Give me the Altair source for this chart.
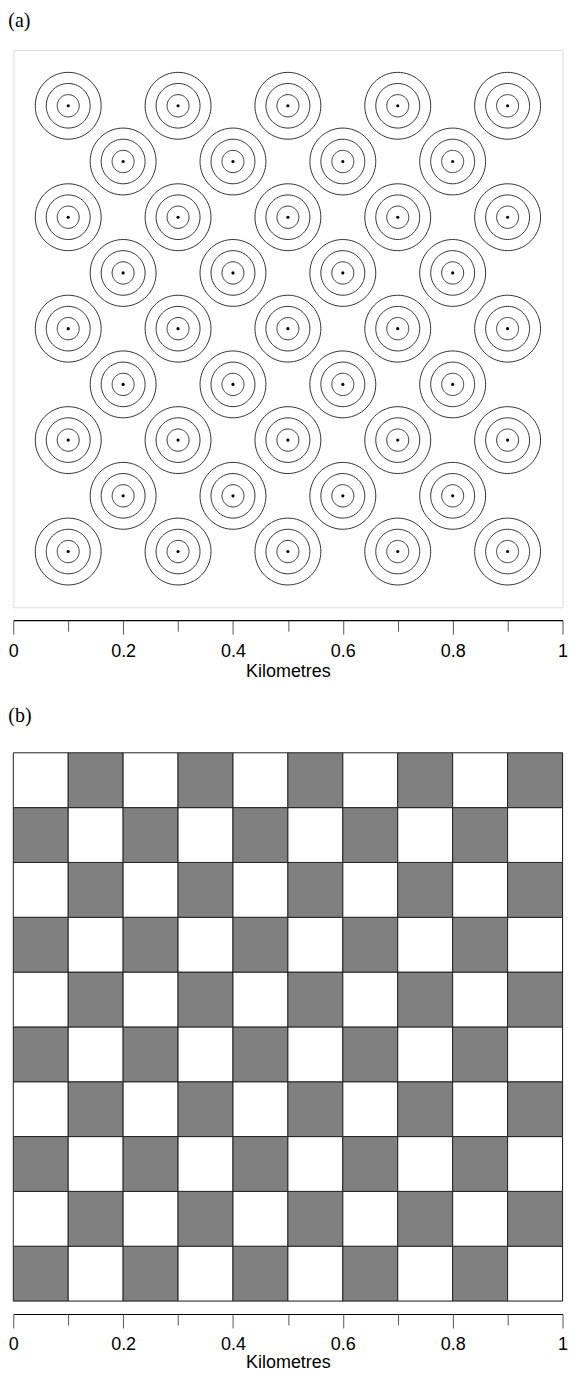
import altair as alt
import numpy as np
import pandas as pd

# ---------------- data ----------------
# panel (a): hexagonal-ish layout of plot centres (km)
long_row_x = [0.1, 0.3, 0.5, 0.7, 0.9]
long_row_y = [0.9, 0.7, 0.5, 0.3, 0.1]
short_row_x = [0.2, 0.4, 0.6, 0.8]
short_row_y = [0.8, 0.6, 0.4, 0.2]
ring_radii = [0.02, 0.04, 0.06]  # km

# panel (b): 10 x 10 checkerboard cell edges (km)
cell_edges = [0.0, 0.1, 0.2, 0.3, 0.4, 0.5, 0.6, 0.7, 0.8, 0.9, 1.0]
cell_classes = ["gray", "white"]

tick_values = [0.0, 0.1, 0.2, 0.3, 0.4, 0.5, 0.6, 0.7, 0.8, 0.9, 1.0]
x_title = "Kilometres"

# ---------------- tables ----------------
centres = [(x, y) for y in long_row_y for x in long_row_x] + \
          [(x, y) for y in short_row_y for x in short_row_x]
centres_df = pd.DataFrame(centres, columns=["x", "y"])

n_seg = 72
angles = np.linspace(0, 2 * np.pi, n_seg + 1)
ring_rows = []
rid = 0
for (cx, cy) in centres:
    for r in ring_radii:
        for k, a in enumerate(angles):
            ring_rows.append({"x": cx + r * np.cos(a), "y": cy + r * np.sin(a),
                              "ring": rid, "k": k})
        rid += 1
rings_df = pd.DataFrame(ring_rows)

cells = []
for i in range(10):
    for j in range(10):
        cells.append({"x": cell_edges[i], "x2": cell_edges[i + 1],
                      "y": cell_edges[j], "y2": cell_edges[j + 1],
                      "cls": cell_classes[(i + j) % 2]})
cells_df = pd.DataFrame(cells)

# ---------------- shared encodings ----------------
W = 551
FONT = "Liberation Sans"

def x_axis(label_pad, title_pad):
    return alt.Axis(
        values=tick_values, format="~g", grid=False, offset=13,
        domainColor="#000000", domainWidth=1.2,
        tickColor="#555555", tickWidth=1,
        tickSize={"condition": {"test": "round(datum.value*10) % 2 == 0", "value": 14}, "value": 11},
        labelExpr="round(datum.value*10) % 2 == 0 ? datum.label : ''",
        labelFont=FONT, labelFontSize=18, labelColor="#000000", labelPadding=label_pad,
        labelFlush=False, labelOverlap=False,
        title=x_title, titleFont=FONT, titleFontSize=18, titleFontWeight="normal",
        titleColor="#000000", titlePadding=title_pad,
    )

xs = alt.Scale(domain=[0, 1], nice=False, zero=False)
ys = alt.Scale(domain=[0, 1], nice=False, zero=False)

def panel_title(t, off):
    return alt.TitleParams(t, anchor="start", font="Liberation Serif", fontSize=20,
                           fontWeight="normal", color="#000000", offset=off)

# ---------------- panel (a) ----------------
rings = alt.Chart(rings_df).mark_line(color="#333333", strokeWidth=1).encode(
    x=alt.X("x:Q", scale=xs, axis=x_axis(8, 2)),
    y=alt.Y("y:Q", scale=ys, axis=None),
    detail="ring:N",
    order="k:Q",
)
dots = alt.Chart(centres_df).mark_circle(size=10, color="#000000", opacity=1).encode(
    x=alt.X("x:Q", scale=xs),
    y=alt.Y("y:Q", scale=ys),
)
panel_a = alt.layer(rings, dots).properties(width=W, height=559, title=panel_title("(a)", 19))

# ---------------- panel (b) ----------------
board = alt.Chart(cells_df).mark_rect(stroke="#222222", strokeWidth=1).encode(
    x=alt.X("x:Q", scale=xs, axis=x_axis(8, 0)),
    x2="x2:Q",
    y=alt.Y("y:Q", scale=ys, axis=None),
    y2="y2:Q",
    fill=alt.Fill("cls:N", scale=alt.Scale(domain=cell_classes, range=["#808080", "#ffffff"]),
                  legend=None),
)
panel_b = board.properties(width=W, height=550, title=panel_title("(b)", 26))

chart = alt.vconcat(panel_a, panel_b, spacing=25).properties(
    padding={"left": -0.7, "top": 0, "right": -0.5, "bottom": -3}
).configure_view(stroke="#222222", strokeWidth=1).configure(background="#ffffff")

chart.save("out.html", embed_options={"renderer": "svg", "actions": False})
